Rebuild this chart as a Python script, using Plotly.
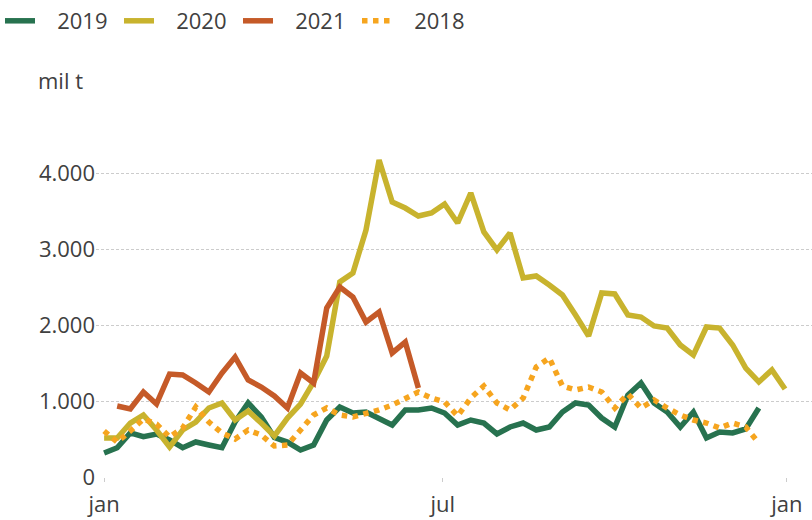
import pandas as pd
import plotly.graph_objects as go

# weekly values, in thousands of tonnes
vals_2019 = [316, 385, 580, 530, 565, 487, 385, 461, 421, 385, 724, 974, 790, 520,
             460, 355, 420, 750, 920, 842, 855, 776, 684, 882, 882, 908, 842, 684,
             750, 710, 566, 658, 710, 618, 658, 855, 974, 947, 776, 658, 1079, 1237,
             974, 855, 658, 855, 513, 592, 579, 632, 908]
vals_2020 = [513, 513, 710, 816, 618, 395, 618, 724, 908, 974, 750, 868, 710, 540,
             776, 960, 1250, 1592, 2566, 2684, 3250, 4171, 3618, 3539, 3434, 3474,
             3592, 3342, 3737, 3224, 2987, 3210, 2618, 2645, 2526, 2395, 2132, 1855,
             2421, 2408, 2132, 2105, 1987, 1960, 1737, 1605, 1974, 1960, 1737, 1434,
             1250, 1408, 1158]
vals_2021 = [None, 934, 895, 1118, 961, 1355, 1342, 1237, 1118, 1368, 1579, 1276, 1184,
             1066, 908, 1368, 1237, 2224, 2500, 2368, 2039, 2171, 1632, 1776, 1171]
vals_2018 = [605, 460, 605, 763, 697, 526, 645, 920, 724, 579, 500, 618, 553, 408,
             421, 618, 816, 908, 816, 790, 829, 882, 947, 1039, 1118, 1039, 987, 803,
             1039, 1197, 974, 882, 1039, 1447, 1566, 1197, 1145, 1184, 1118, 908,
             1092, 908, 1013, 908, 816, 750, 710, 645, 710, 658, 447]

series = [
    ("2019", vals_2019, "#27724f", "solid"),
    ("2020", vals_2020, "#c8b32e", "solid"),
    ("2021", vals_2021, "#c55a28", "solid"),
    ("2018", vals_2018, "#f6a51f", "dot"),
]

tick_dates = ["2019-01-01", "2019-07-01", "2020-01-01"]
tick_text = ["jan", "jul", "jan"]
y_ticks = [0, 1000, 2000, 3000, 4000]

FONT = "Open Sans, Noto Sans, sans-serif"
TEXT = "#404040"

fig = go.Figure()
for name, vals, color, dash in series:
    weeks = pd.date_range("2019-01-01", periods=len(vals), freq="7D")
    fig.add_trace(go.Scatter(
        x=weeks, y=vals, name="\u00a0\u00a0\u00a0" + name, mode="lines",
        line=dict(color=color, width=5.5, dash=dash),
        connectgaps=False,
    ))

fig.update_layout(
    width=812, height=520,
    margin=dict(l=96, r=0, t=135, b=43, autoexpand=False),
    paper_bgcolor="white", plot_bgcolor="white",
    separators=",.",
    font=dict(family=FONT, size=22, color=TEXT),
    showlegend=True,
    legend=dict(
        orientation="h", xref="container", yref="container",
        x=-0.0045, y=1.0, xanchor="left", yanchor="top",
        font=dict(size=22, color=TEXT), itemwidth=30,
        entrywidth=74, entrywidthmode="pixels",
        bgcolor="rgba(0,0,0,0)",
    ),
    annotations=[dict(
        text="mil t", x=-0.05, y=1.161, xref="paper", yref="paper",
        xanchor="center", yanchor="middle",
        showarrow=False, font=dict(size=22, color=TEXT),
    )],
)
fig.update_xaxes(
    range=["2018-12-27 16:00", "2020-01-14 10:00"],
    tickvals=tick_dates, ticktext=tick_text,
    showgrid=False, zeroline=False, showline=False, automargin=False,
    ticks="outside", ticklen=4, tickcolor="#cccccc", ticklabelstandoff=4,
    tickfont=dict(size=22, color=TEXT),
)
fig.update_yaxes(
    range=[0, 4500],
    tickvals=y_ticks, separatethousands=True,
    showgrid=True, gridcolor="#cccccc", griddash="3px,2px", gridwidth=1,
    zeroline=False, showline=False, automargin=False,
    tickfont=dict(size=22, color=TEXT), ticks="",
)

# the page's default body margin would shift the chart by 8px
fig.write_html(
    "out.html",
    config={"displayModeBar": False},
    post_script="document.body.style.margin='0';",
)
